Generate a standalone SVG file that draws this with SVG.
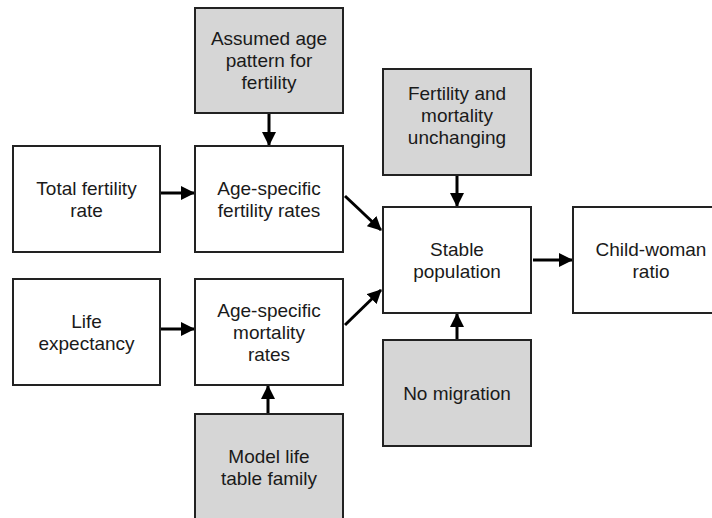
<svg xmlns="http://www.w3.org/2000/svg" width="712" height="518" viewBox="0 0 712 518">
<style>
.box{stroke:#222;stroke-width:2;fill:#fff}
.gray{fill:#d6d6d6}
text{font-family:"Liberation Sans",Arial,Helvetica,sans-serif;font-size:19px;fill:#1a1a1a;text-anchor:middle}
.conn line{stroke:#000;stroke-width:3;fill:none}
</style>
<defs>
<marker id="ah" markerUnits="userSpaceOnUse" markerWidth="14" markerHeight="14" viewBox="0 0 14 14" refX="13" refY="7" orient="auto">
<path d="M0,0 L14,7 L0,14 Z" fill="#000"/>
</marker>
</defs>
<rect width="712" height="518" fill="#fff"/>
<g class="conn">
<line x1="269" y1="114" x2="269" y2="145" marker-end="url(#ah)"/>
<line x1="161" y1="193" x2="194" y2="193" marker-end="url(#ah)"/>
<line x1="161" y1="329" x2="194" y2="329" marker-end="url(#ah)"/>
<line x1="268" y1="414" x2="268" y2="386" marker-end="url(#ah)"/>
<line x1="345" y1="196" x2="381" y2="230" marker-end="url(#ah)"/>
<line x1="345" y1="325" x2="381" y2="290" marker-end="url(#ah)"/>
<line x1="457" y1="176" x2="457" y2="206" marker-end="url(#ah)"/>
<line x1="457" y1="340" x2="457" y2="314" marker-end="url(#ah)"/>
<line x1="533" y1="260" x2="572" y2="260" marker-end="url(#ah)"/>
</g>
<g id="assumed">
<rect class="box gray" x="195" y="8" width="148" height="105"/>
<text x="269" y="45">Assumed age</text>
<text x="269" y="67">pattern for</text>
<text x="269" y="89">fertility</text>
</g>
<g id="tfr">
<rect class="box" x="13" y="146" width="147" height="106"/>
<text x="86.5" y="195">Total fertility</text>
<text x="86.5" y="217">rate</text>
</g>
<g id="asf">
<rect class="box" x="195" y="146" width="148" height="106"/>
<text x="269" y="195">Age-specific</text>
<text x="269" y="217">fertility rates</text>
</g>
<g id="unchanging">
<rect class="box gray" x="383" y="69" width="148" height="106"/>
<text x="457" y="100">Fertility and</text>
<text x="457" y="122">mortality</text>
<text x="457" y="144">unchanging</text>
</g>
<g id="stable">
<rect class="box" x="383" y="207" width="148" height="106"/>
<text x="457" y="256">Stable</text>
<text x="457" y="278">population</text>
</g>
<g id="cwr">
<rect class="box" x="573" y="207" width="156" height="106"/>
<text x="651" y="256">Child-woman</text>
<text x="651" y="278">ratio</text>
</g>
<g id="life">
<rect class="box" x="13" y="279" width="147" height="106"/>
<text x="86.5" y="328">Life</text>
<text x="86.5" y="350">expectancy</text>
</g>
<g id="asm">
<rect class="box" x="195" y="279" width="148" height="106"/>
<text x="269" y="317">Age-specific</text>
<text x="269" y="339">mortality</text>
<text x="269" y="361">rates</text>
</g>
<g id="nomig">
<rect class="box gray" x="383" y="340" width="148" height="106"/>
<text x="457" y="400">No migration</text>
</g>
<g id="model">
<rect class="box gray" x="195" y="414" width="148" height="110"/>
<text x="269" y="463">Model life</text>
<text x="269" y="485">table family</text>
</g>
</svg>
